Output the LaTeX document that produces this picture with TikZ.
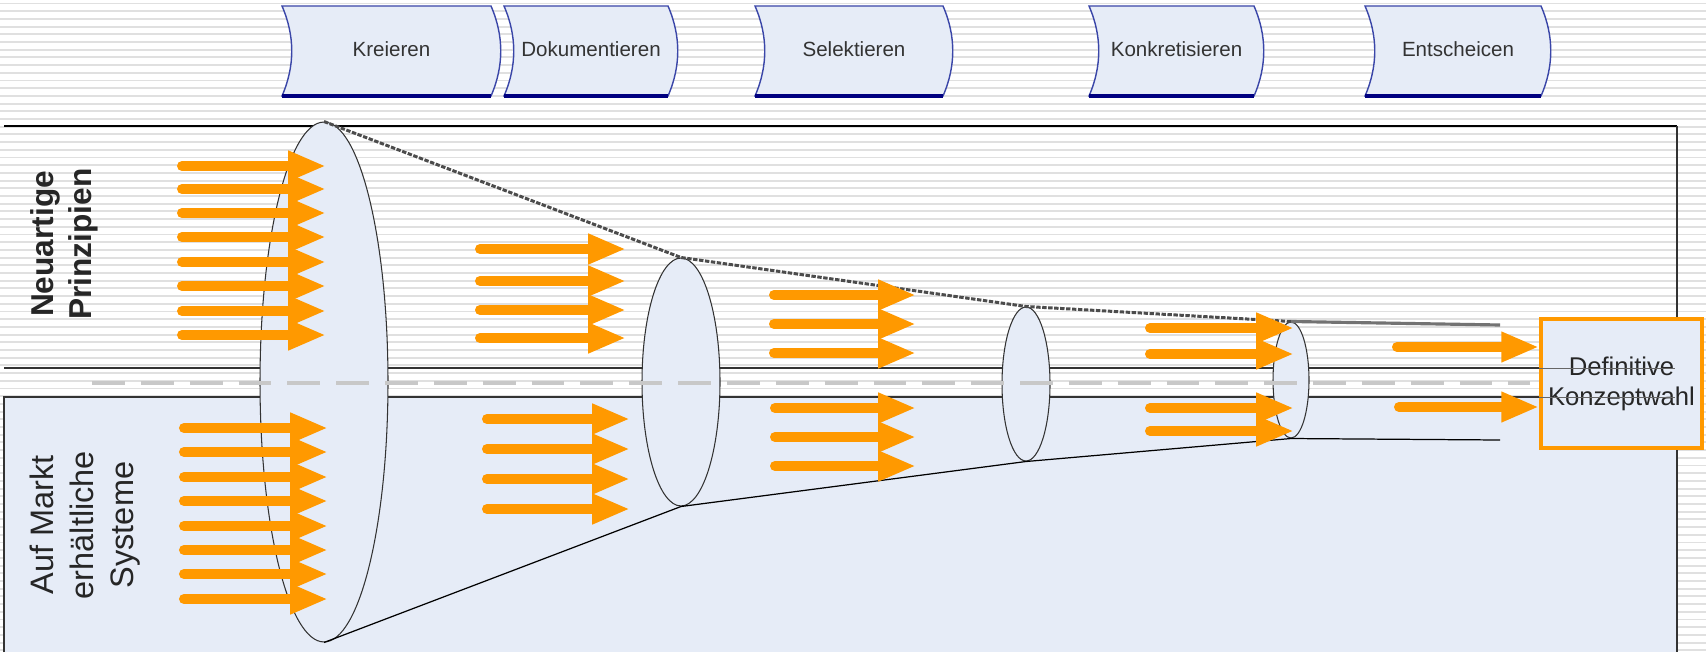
\documentclass[tikz,border=0pt]{standalone}
\usepackage{fontspec}
\setmainfont{Liberation Sans}
\usetikzlibrary{arrows.meta,shapes.geometric}
\definecolor{paleblue}{HTML}{E6ECF7}
\definecolor{stripegray}{HTML}{E0E0E0}
\definecolor{flowora}{HTML}{FF9900}
\definecolor{phaseline}{HTML}{3A46A8}
\definecolor{phasenavy}{HTML}{000080}
\definecolor{dashgray}{HTML}{C8C8C8}
\tikzset{
  stripe/.style={stripegray, line width=1.1pt},
  flow/.style={draw=flowora, line width=5.7pt, line cap=round, -{Triangle[length=21.5pt,width=16pt]}},
  lens/.style={ellipse, draw=black!80, line width=0.6pt, fill=paleblue, inner sep=0pt},
  phasetext/.style={text=black!80, font=\fontsize{11.7}{14}\selectfont},
  sidetext/.style={rotate=90, align=center, text=black!85},
}
\begin{document}
\begin{tikzpicture}[x=0.02cm,y=-0.02cm]
\useasboundingbox (0,0) rectangle (1706,652);
\fill[white] (0,0) rectangle (1706,652);
\foreach \y in {3.5,11.2,...,652} \draw[stripe] (0,\y) -- (1706,\y);

% frames
\fill[paleblue] (4,397) rectangle (1677,652);
\draw[line width=0.8pt, black!80] (4,652) -- (4,397) -- (1677,397);
\draw[line width=1.7pt] (4,126) -- (1677,126);
\draw[line width=1.4pt, black!80] (4,368) -- (1677,368);
\draw[line width=1.2pt, black!80] (1677,126) -- (1677,652);

% funnel
\coordinate (topend) at (1500,325);
\coordinate (botend) at (1500,440);
\node[lens, minimum width=2.56cm, minimum height=10.4cm] (e1) at (324,382) {};
\node[lens, minimum width=1.56cm, minimum height=4.96cm] (e2) at (681,382) {};
\node[lens, minimum width=0.96cm, minimum height=3.08cm] (e3) at (1026,384) {};
\node[lens, minimum width=0.72cm, minimum height=2.32cm] (e4) at (1291,380) {};
\draw[line width=1.7pt, black!70, dash pattern=on 2.5pt off 0.9pt] (e1.north) -- (e2.north) -- (e3.north) -- (e4.north);
\draw[line width=1.8pt, black!55] (e4.north) -- (topend);
\draw[line width=0.7pt] (e1.south) -- (e2.south) -- (e3.south) -- (e4.south) -- (botend);
\draw[dashgray, line width=2.27pt, dash pattern=on 18.7pt off 9.1pt] (92,383) -- (1530,383);

% flows
\foreach \y in {166,189,213,237,262,286,311,335} \draw[flow] (182,\y) -- (326,\y);
\foreach \y in {428,452,477,501,526,550,574,599} \draw[flow] (184,\y) -- (328,\y);
\foreach \y in {249,281,310,338} \draw[flow] (480,\y) -- (626,\y);
\foreach \y in {419,449,479,509} \draw[flow] (487,\y) -- (630,\y);
\foreach \y in {295,324,353} \draw[flow] (774,\y) -- (916,\y);
\foreach \y in {408,437,466} \draw[flow] (775,\y) -- (916,\y);
\foreach \y in {328,354,408,431} \draw[flow] (1150,\y) -- (1294,\y);

% phases
\foreach \l/\r/\t/\n in {282/491/Kreieren/kre, 504/668/Dokumentieren/dok, 755/943/Selektieren/sel, 1089/1254/Konkretisieren/kon, 1365/1541/Entscheicen/ent}{
  \draw[phaseline, line width=0.8pt, fill=paleblue] (\l,6) -- (\r,6) .. controls (\r+13,36) and (\r+13,66) .. (\r,96) -- (\l,96) .. controls (\l+13,66) and (\l+13,36) .. (\l,6) -- cycle;
  \draw[phasenavy, line width=2.1pt] (\l,96) -- (\r,96);
  \node[phasetext] (\n) at ({(\l+\r)/2+5},49) {\t};
}

% decision
\node[draw=flowora, line width=2.27pt, fill=paleblue, minimum width=3.22cm, minimum height=2.58cm, align=center, text=black!85, font=\fontsize{14.6}{17}\selectfont] (wahl) at (1621.5,383.5) {Definitive\\Konzeptwahl};
\draw[line width=0.4pt, black!60] (wahl.west |- 0,368) -- (1675,368);
\draw[line width=0.4pt, black!60] (wahl.west |- 0,397) -- (1675,397);
\draw[flow] (1397,347) -- (wahl.west |- 0,347);
\draw[flow] (1399,407) -- (wahl.west |- 0,407);

\node[sidetext, font=\bfseries\fontsize{18}{21.5}\selectfont] (neu) at (64,244) {Neuartige\\Prinzipien};
\node[sidetext, font=\fontsize{18.5}{22.7}\selectfont] (markt) at (85,525) {Auf Markt\\erhältliche\\Systeme};
\end{tikzpicture}
\end{document}
